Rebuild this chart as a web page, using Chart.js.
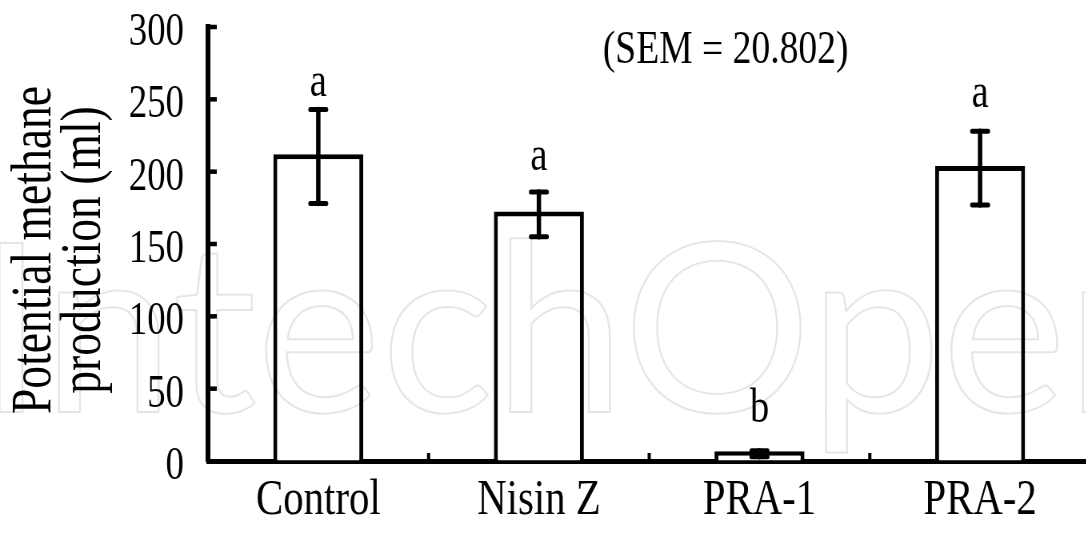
<!DOCTYPE html>
<html>
<head>
<meta charset="utf-8">
<script src="https://cdn.jsdelivr.net/npm/chart.js@4/dist/chart.umd.min.js"></script>
<style>
html, body { margin:0; padding:0; background:#fff; overflow:hidden; }
/* the figure uses a narrow serif face, so the whole canvas is squeezed sideways */
#wrap { width:1363px; height:541px; transform:scaleX(0.8); transform-origin:0 0; }
</style>
</head>
<body>
<div id="wrap"><canvas id="methane_chart"></canvas></div>
<script>
var categories = ["Control", "Nisin Z", "PRA-1", "PRA-2"];
var methane = [212, 172.5, 6.8, 204];
var errLow = [178, 155, 3, 177];
var errHigh = [243, 186, 7, 228];
var groupLetters = ["a", "a", "b", "a"];
var letterLevel = [252, 201, 27, 245];
var titleLines = ["Potential methane", "production (ml)"];
var semNote = "(SEM = 20.802)";
var watermark = "IntechOpen";

var squeeze = 0.8;
var serif = "'Liberation Serif', 'Times New Roman', serif";
var titleBase = [63, 125];

//Faint publisher mark laid over everything
const overlayMark = {
    id: 'overlayMark',
    afterDraw(chart) {
        const ctx = chart.ctx;
        ctx.save();
        ctx.scale(1 / squeeze, 1);
        ctx.font = '400 236px Lato, sans-serif';
        ctx.strokeStyle = 'rgba(0,0,0,0.1)';
        ctx.lineWidth = 2;
        ctx.textBaseline = 'alphabetic';
        ctx.strokeText(watermark, -22, 412);
        ctx.restore();
    }
};

//Draws the error bars, inward ticks, letters and the texts
const extras = {
    id: 'extras',
    afterDatasetsDraw(chart) {
        const ctx = chart.ctx;
        const x = chart.scales.x, y = chart.scales.y, area = chart.chartArea;
        ctx.save();
        ctx.strokeStyle = '#000';
        ctx.fillStyle = '#000';

        // error bars
        ctx.lineCap = 'round';
        for (let i = 0; i < categories.length; i++) {
            const cx = x.getPixelForValue(i);
            const lo = y.getPixelForValue(errLow[i]);
            const hi = y.getPixelForValue(errHigh[i]);
            ctx.lineWidth = 5.5;
            ctx.beginPath(); ctx.moveTo(cx, lo); ctx.lineTo(cx, hi); ctx.stroke();
            ctx.lineWidth = 5;
            ctx.beginPath();
            ctx.moveTo(cx - 10, lo); ctx.lineTo(cx + 10, lo);
            ctx.moveTo(cx - 10, hi); ctx.lineTo(cx + 10, hi);
            ctx.stroke();
        }

        // ticks pointing into the plot
        ctx.lineCap = 'butt';
        ctx.lineWidth = 4.5;
        y.ticks.forEach(function(t) {
            if (t.value == 0) return;
            const py = y.getPixelForValue(t.value);
            ctx.beginPath(); ctx.moveTo(area.left, py); ctx.lineTo(area.left + 11, py); ctx.stroke();
        });
        ctx.lineWidth = 4;
        for (let i = 1; i < categories.length; i++) {
            const bx = (x.getPixelForValue(i - 1) + x.getPixelForValue(i)) / 2;
            ctx.beginPath(); ctx.moveTo(bx, area.bottom); ctx.lineTo(bx, area.bottom - 8); ctx.stroke();
        }

        // significance letters
        ctx.font = '48px ' + serif;
        ctx.textAlign = 'center';
        ctx.textBaseline = 'alphabetic';
        for (let i = 0; i < categories.length; i++) {
            ctx.fillText(groupLetters[i], x.getPixelForValue(i), y.getPixelForValue(letterLevel[i]));
        }
        ctx.font = '47px ' + serif;
        ctx.fillText(semNote, 907, 63);

        // y title, two rotated lines
        ctx.font = '57px ' + serif;
        titleLines.forEach(function(line, k) {
            ctx.save();
            ctx.translate(titleBase[k], (area.top + area.bottom) / 2 + 6);
            ctx.rotate(-Math.PI / 2);
            ctx.scale(squeeze, 1 / squeeze);
            ctx.fillText(line, 0, 0);
            ctx.restore();
        });
        ctx.restore();
    }
};

const config = {
    type: 'bar',
    data: {
        labels: categories,
        datasets: [{
            data: methane,
            backgroundColor: '#fff',
            borderColor: '#000',
            borderWidth: 5,
            borderSkipped: 'start',
            barPercentage: 0.408,
            categoryPercentage: 1
        }]
    },
    options: {
        responsive: true,
        maintainAspectRatio: false,
        animation: false,
        layout: { padding: { top: 27, right: 0, bottom: 0, left: 0 } },
        plugins: { legend: { display: false }, tooltip: { enabled: false } },
        scales: {
            x: {
                grid: { drawOnChartArea: false, drawTicks: false },
                border: { color: '#000', width: 5 },
                ticks: { color: '#000', font: { family: serif, size: 51 }, padding: 9, maxRotation: 0, autoSkip: false },
                afterFit: function(s) { s.height = 80; s.paddingLeft = 0; s.paddingRight = 0; }
            },
            y: {
                min: 0,
                max: 300,
                grid: { drawOnChartArea: false, drawTicks: false },
                border: { color: '#000', width: 6 },
                ticks: { stepSize: 50, color: '#000', font: { family: serif, size: 46 }, padding: 30, labelOffset: 6 },
                afterFit: function(s) { s.width = 260; s.paddingTop = 0; s.paddingBottom = 0; }
            }
        }
    },
    plugins: [extras, overlayMark]
};

new Chart(document.getElementById('methane_chart'), config);
</script>
</body>
</html>
